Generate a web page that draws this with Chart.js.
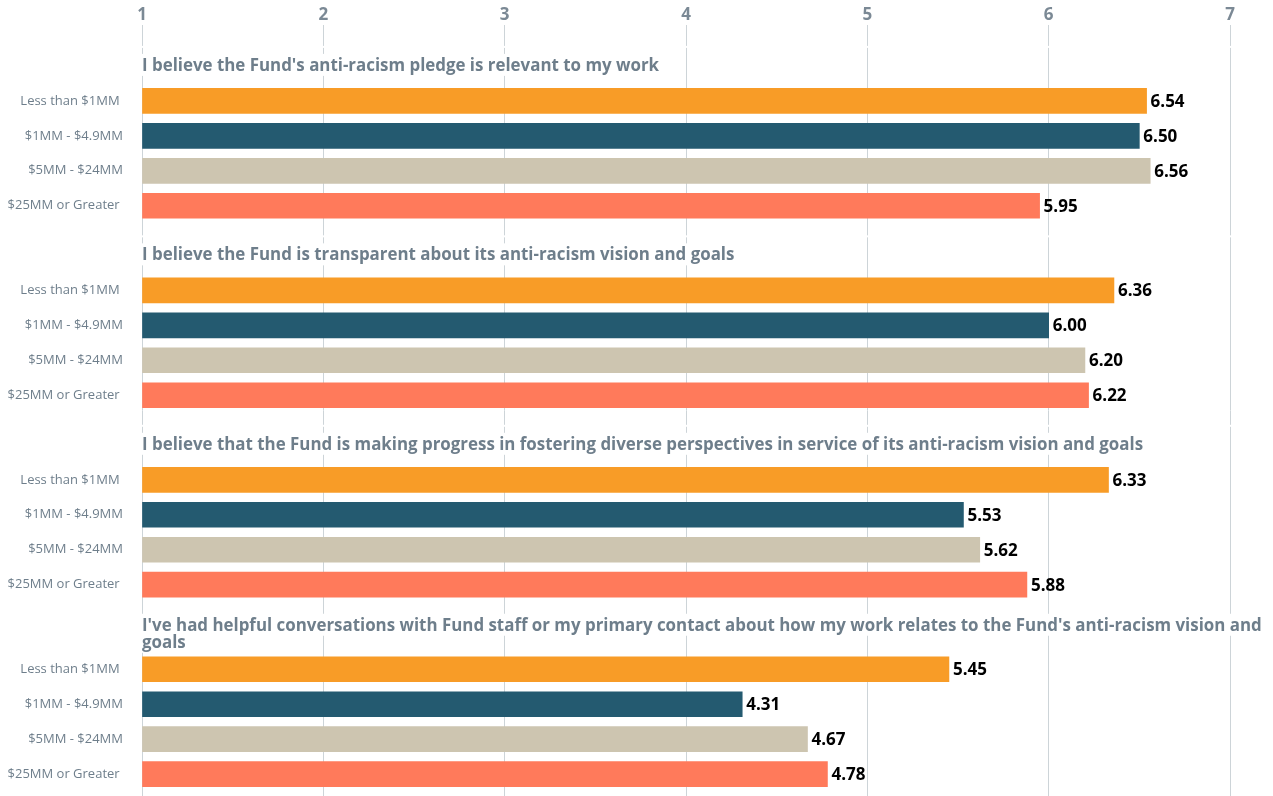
<!DOCTYPE html>
<html>
<head>
<meta charset="utf-8">
<script src="https://cdn.jsdelivr.net/npm/chart.js@4/dist/chart.umd.min.js"></script>
<style>
  html, body { margin: 0; padding: 0; background: #ffffff; }
  #wrap { width: 1273px; height: 796px; }
</style>
</head>
<body>
<div id="wrap"><canvas id="chart" width="1273" height="796"></canvas></div>
<script>
// Survey statements (one block of bars each)
const questions = [
  "I believe the Fund's anti-racism pledge is relevant to my work",
  "I believe the Fund is transparent about its anti-racism vision and goals",
  "I believe that the Fund is making progress in fostering diverse perspectives in service of its anti-racism vision and goals",
  ["I've had helpful conversations with Fund staff or my primary contact about how my work relates to the Fund's anti-racism vision and", "goals"]
];

// Grantee budget brackets
const brackets = ["Less than $1MM ", "$1MM - $4.9MM", "$5MM - $24MM", "$25MM or Greater "];

// Average agreement (1-7) per bracket, one value per statement
const lessThan1MM  = [6.54, 6.36, 6.33, 5.45];
const from1To4_9MM = [6.50, 6.00, 5.53, 4.31];
const from5To24MM  = [6.56, 6.20, 5.62, 4.67];
const over25MM     = [5.95, 6.22, 5.88, 4.78];

const xTicks = [1, 2, 3, 4, 5, 6, 7];

const bracketColors = ["#F89C27", "#245A70", "#CDC5B0", "#FF7A5B"];

// Each statement block occupies BLOCK units on the vertical axis, one unit per bar row
const BLOCK = 5.42;
const seriesValues = [lessThan1MM, from1To4_9MM, from5To24MM, over25MM];

const datasets = seriesValues.map((vals, b) => ({
  label: brackets[b].trim(),
  data: vals.map((v, q) => ({ x: v, y: q * BLOCK + b })),
  backgroundColor: bracketColors[b],
  borderWidth: 0,
  barThickness: 25,
  grouped: false,
  base: 1
}));

const rowPositions = [];
questions.forEach((_, q) => brackets.forEach((_, b) => rowPositions.push(q * BLOCK + b)));

const GRID = "#CDD4D8";
const TITLE_COLOR = "#6E7E8B";

// Light separators between statement blocks
const blockGaps = {
  id: 'blockGaps',
  beforeDatasetsDraw(chart) {
    const { ctx, chartArea, scales: { y } } = chart;
    ctx.save();
    ctx.fillStyle = '#ffffff';
    questions.forEach((_, q) => {
      const gy = y.getPixelForValue(q * BLOCK) - 54;
      ctx.fillRect(chartArea.left - 2, gy - 1, chartArea.right - chartArea.left + 4, 2);
    });
    ctx.restore();
  }
};

// Statement titles above each block
const blockTitles = {
  id: 'blockTitles',
  afterDatasetsDraw(chart) {
    const { ctx, chartArea, scales: { y } } = chart;
    ctx.save();
    ctx.font = "bold 16.9px 'Open Sans'";
    ctx.textBaseline = 'middle';
    ctx.textAlign = 'left';
    const lineH = 17;
    questions.forEach((t, q) => {
      const lines = Array.isArray(t) ? t : [t];
      const center = y.getPixelForValue(q * BLOCK) - 36;
      lines.forEach((line, i) => {
        const ly = center + (i - (lines.length - 1) / 2) * lineH;
        const w = ctx.measureText(line).width;
        ctx.fillStyle = '#ffffff';
        ctx.fillRect(chartArea.left - 1, ly - 11, w + 3, 22);
      });
      lines.forEach((line, i) => {
        const ly = center + (i - (lines.length - 1) / 2) * lineH;
        ctx.fillStyle = TITLE_COLOR;
        ctx.fillText(line, chartArea.left, ly + 1);
      });
    });
    ctx.restore();
  }
};

// Value printed at the end of every bar
const barValues = {
  id: 'barValues',
  afterDatasetsDraw(chart) {
    const { ctx } = chart;
    ctx.save();
    ctx.font = "bold 17px 'Open Sans'";
    ctx.fillStyle = '#000000';
    ctx.textBaseline = 'middle';
    ctx.textAlign = 'left';
    chart.data.datasets.forEach((ds, di) => {
      const meta = chart.getDatasetMeta(di);
      meta.data.forEach((el, i) => {
        ctx.fillText(ds.data[i].x.toFixed(2), el.x + 4, el.y + 1);
      });
    });
    ctx.restore();
  }
};

new Chart(document.getElementById('chart'), {
  type: 'bar',
  data: { datasets },
  options: {
    indexAxis: 'y',
    responsive: false,
    animation: false,
    layout: { padding: { top: 0, right: 43, bottom: 0, left: 0 } },
    plugins: {
      legend: { display: false },
      tooltip: { enabled: false }
    },
    scales: {
      x: {
        type: 'linear',
        position: 'top',
        min: xTicks[0],
        max: xTicks[xTicks.length - 1],
        afterBuildTicks: (scale) => { scale.ticks = xTicks.map(v => ({ value: v })); },
        afterFit: (scale) => { scale.height = 25; },
        grid: { color: GRID, lineWidth: 1, drawTicks: false },
        border: { display: false },
        ticks: {
          padding: 0,
          color: '#7B8995',
          font: { family: "'Open Sans'", size: 17, weight: 'bold' }
        }
      },
      y: {
        type: 'linear',
        reverse: true,
        offset: false,
        min: -2.171,
        max: 19.886,
        afterBuildTicks: (scale) => { scale.ticks = rowPositions.map(v => ({ value: v })); },
        afterFit: (scale) => {
          scale.width = 142;
          scale.paddingTop = 0;
          scale.paddingBottom = 0;
        },
        grid: { display: false, drawTicks: false },
        border: { display: false },
        ticks: {
          autoSkip: false,
          padding: 19,
          color: '#6E7E8B',
          font: { family: "'Open Sans'", size: 13 },
          callback: (value, index) => brackets[index % brackets.length]
        }
      }
    }
  },
  plugins: [blockGaps, blockTitles, barValues]
});
</script>
</body>
</html>
